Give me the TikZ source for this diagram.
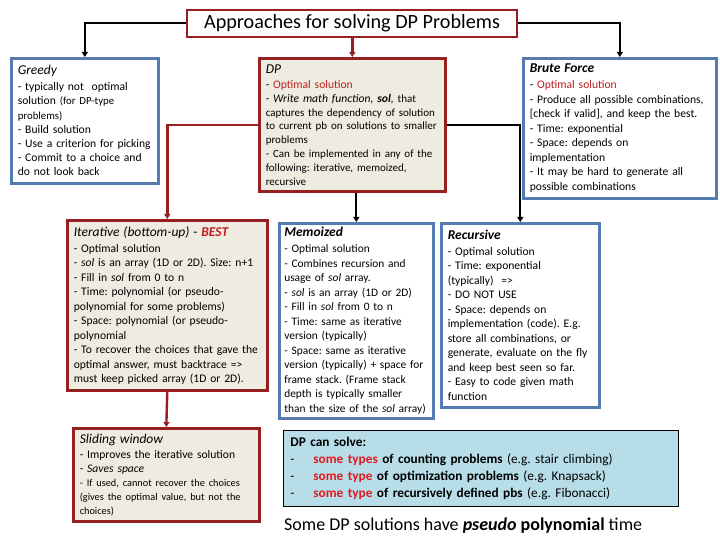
\documentclass[tikz,border=0pt]{standalone}
\usepackage{fontspec}
\setmainfont{Carlito}
\usetikzlibrary{arrows.meta}
\definecolor{boxred}{RGB}{150,32,32}
\definecolor{boxblue}{RGB}{84,124,176}
\definecolor{boxtan}{RGB}{238,236,225}
\definecolor{optred}{RGB}{190,30,30}
\definecolor{hotred}{RGB}{225,25,30}
\definecolor{aqua}{RGB}{183,221,232}
\newcommand\boxhead[1]{{\fontsize{13.5}{14.5}\selectfont #1}}
\newcommand\smalltxt[1]{{\fontsize{10.3}{13.5}\selectfont #1}}
\begin{document}
\frenchspacing
\begin{tikzpicture}[x=1pt,y=-1pt,
  font=\fontsize{11.6}{14.5}\selectfont,
  box/.style={anchor=north west,inner xsep=6.5pt,inner ysep=2pt,align=left,line width=2.6pt},
  redbox/.style={box,draw=boxred,fill=boxtan},
  bluebox/.style={box,draw=boxblue,fill=white},
  conn/.style={line width=2pt,-{Triangle[length=5pt,width=6pt]}},
  redconn/.style={conn,color=boxred,line width=2.4pt}]
  \useasboundingbox (0,0) rectangle (720,540);
  \fill[white] (0,0) rectangle (720,540);
  \node[anchor=north west,draw=boxred,line width=2pt,fill=white,inner sep=0pt,
    minimum width=330pt,minimum height=27pt,font=\fontsize{20.2}{22}\selectfont]
    (title) at (186,9) {Approaches for solving DP Problems};
  \node[bluebox,text width=134pt,minimum height=125pt,font=\fontsize{11.6}{14.2}\selectfont] (greedy) at (10,57)
    {\boxhead{\textit{Greedy}}\\[1.5pt]
     - typically not\ \ optimal\\
     solution {\fontsize{10.8}{12}\selectfont(for DP-type}\\
     {\fontsize{10.8}{12}\selectfont problems)}\\
     - Build solution\\
     - Use a criterion for picking\\
     - Commit to a choice and\\
     do not look back};
  \node[redbox,text width=173pt,minimum height=133pt,font=\fontsize{11.6}{13.8}\selectfont] (dp) at (258,57)
    {\boxhead{\textit{DP}}\\[1.5pt]
     - \textcolor{optred}{Optimal solution}\\
     - \textit{Write math function, \textbf{sol},} {\fontsize{11}{13.8}\selectfont that}\\
     {\fontsize{11}{13.8}\selectfont captures the dependency of solution}\\
     {\fontsize{11}{13.8}\selectfont to current pb on solutions to smaller}\\
     {\fontsize{11}{13.8}\selectfont problems}\\
     {\fontsize{11}{13.8}\selectfont - Can be implemented in any of the}\\
     {\fontsize{11}{13.8}\selectfont following: iterative, memoized,}\\
     {\fontsize{11}{13.8}\selectfont recursive}};
  \node[bluebox,text width=180pt,minimum height=140pt] (brute) at (522,57)
    {\boxhead{\textbf{\textit{Brute Force}}}\\[1.5pt]
     - \textcolor{optred}{Optimal solution}\\
     - Produce all possible combinations,\\
     {[check if valid]}, and keep the best.\\
     - Time: exponential\\
     - Space: depends on\\
     implementation\\
     - It may be hard to generate all\\
     possible combinations};
  \node[redbox,text width=187pt,minimum height=170pt] (iter) at (66,219)
    {\boxhead{\textit{Iterative (bottom-up)} - \textcolor{optred}{\textbf{\textit{BEST}}}}\\[1.5pt]
     - Optimal solution\\
     - \textit{sol} is an array (1D or 2D). Size: n+1\\
     - Fill in \textit{sol} from 0 to n\\
     - Time: polynomial (or pseudo-\\
     polynomial for some problems)\\
     - Space: polynomial (or pseudo-\\
     polynomial\\
     - To recover the choices that gave the\\
     optimal answer, must backtrace {=}{>}\\
     must keep picked array (1D or 2D).};
  \node[bluebox,inner xsep=5pt,text width=144pt,minimum height=195pt,font=\fontsize{11.4}{14.5}\selectfont] (memo) at (278,222)
    {\boxhead{\textbf{\textit{Memoized}}}\\[1.5pt]
     - Optimal solution\\
     - Combines recursion and\\
     usage of \textit{sol} array.\\
     - \textit{sol} is an array (1D or 2D)\\
     - Fill in \textit{sol} from 0 to n\\
     - Time: same as iterative\\
     version (typically)\\
     - Space: same as iterative\\
     version (typically) + space for\\
     frame stack. (Frame stack\\
     depth is typically smaller\\
     than the size of the \textit{sol} array)};
  \node[bluebox,text width=145pt,minimum height=184pt] (rec) at (440,222)
    {\boxhead{\textbf{\textit{Recursive}}}\\[1.5pt]
     - Optimal solution\\
     - Time: exponential\\
     (typically)\ \ {=}{>}\\
     - DO NOT USE\\
     - Space: depends on\\
     implementation (code). E.g.\\
     store all combinations, or\\
     generate, evaluate on the fly\\
     and keep best seen so far.\\
     - Easy to code given math\\
     function};
  \node[redbox,text width=173pt,minimum height=93pt,font=\fontsize{11.6}{13.8}\selectfont] (slide) at (72,427)
    {\boxhead{\textit{Sliding window}}\\[1.5pt]
     - Improves the iterative solution\\
     - \textit{Saves space}\\
     \smalltxt{- If used, cannot recover the choices}\\
     \smalltxt{(gives the optimal value, but not the}\\
     \smalltxt{choices)}};
  \node[anchor=north west,draw=black,line width=0.8pt,fill=aqua,align=left,
    inner xsep=7pt,text width=381pt,minimum height=76pt,font=\fontsize{13.3}{17}\selectfont]
    (solve) at (283,430)
    {\textbf{DP can solve:}\\
     \makebox[23pt][l]{-}\textbf{\textcolor{hotred}{some types} of counting problems} (e.g. stair climbing)\\
     \makebox[23pt][l]{-}\textbf{\textcolor{hotred}{some type} of optimization problems} (e.g. Knapsack)\\
     \makebox[23pt][l]{-}\textbf{\textcolor{hotred}{some type} of recursively defined pbs} (e.g. Fibonacci)};
  \node[anchor=base west,inner sep=0pt,font=\fontsize{18}{20}\selectfont] (note) at (284,530)
    {Some DP solutions have \textbf{\textit{pseudo}} \textbf{polynomial} time};
  % connectors
  \draw[conn] (title.west) -| (greedy.north);
  \draw[conn] (title.east) -| (brute.north);
  \draw[redconn] (title.south -| dp.north) -- (dp.north);
  \draw[redconn] (dp.west) -| (iter.north);
  \draw[conn] (memo.north |- dp.south) -- (memo.north);
  \draw[conn] (dp.east) -| (rec.north);
  \draw[redconn] (iter.south) -- (slide.north);
\end{tikzpicture}
\end{document}
